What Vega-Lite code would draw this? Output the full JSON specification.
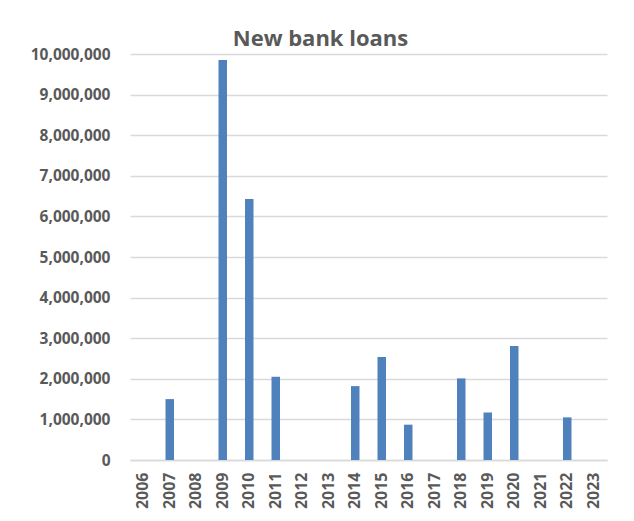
{
  "$schema": "https://vega.github.io/schema/vega-lite/v6.json",
  "width": 477,
  "height": 406,
  "autosize": {"type": "none"},
  "padding": {"left": 130, "top": 54, "right": 27, "bottom": 61},
  "background": "#ffffff",
  "title": {
    "text": "New bank loans",
    "font": "Open Sans",
    "fontSize": 22,
    "fontWeight": "bold",
    "color": "#595959",
    "anchor": "middle",
    "baseline": "alphabetic",
    "offset": 6,
    "dx": -48,
    "dy": 27
  },
  "data": {
    "values": [
      {"year": "2006", "loans": 0},
      {"year": "2007", "loans": 1500000},
      {"year": "2008", "loans": 0},
      {"year": "2009", "loans": 9850000},
      {"year": "2010", "loans": 6430000},
      {"year": "2011", "loans": 2050000},
      {"year": "2012", "loans": 0},
      {"year": "2013", "loans": 0},
      {"year": "2014", "loans": 1820000},
      {"year": "2015", "loans": 2540000},
      {"year": "2016", "loans": 870000},
      {"year": "2017", "loans": 0},
      {"year": "2018", "loans": 2010000},
      {"year": "2019", "loans": 1170000},
      {"year": "2020", "loans": 2810000},
      {"year": "2021", "loans": 0},
      {"year": "2022", "loans": 1050000},
      {"year": "2023", "loans": 0}
    ]
  },
  "mark": {"type": "bar", "color": "#4f81bd"},
  "encoding": {
    "x": {
      "field": "year",
      "type": "ordinal",
      "scale": {"paddingInner": 0.68, "paddingOuter": 0.34},
      "axis": {
        "title": null,
        "labelAngle": -90,
        "labelAlign": "right",
        "labelBaseline": "middle",
        "labelPadding": 12,
        "labelFont": "Open Sans",
        "labelFontSize": 16,
        "labelFontWeight": "bold",
        "labelColor": "#595959",
        "ticks": false,
        "domainColor": "#d9d9d9",
        "domainWidth": 1.5,
        "grid": false
      }
    },
    "y": {
      "field": "loans",
      "type": "quantitative",
      "scale": {"domain": [0, 10000000], "nice": false},
      "axis": {
        "title": null,
        "values": [0, 1000000, 2000000, 3000000, 4000000, 5000000, 6000000, 7000000, 8000000, 9000000, 10000000],
        "format": ",d",
        "labelPadding": 20,
        "labelFont": "Open Sans",
        "labelFontSize": 15.5,
        "labelFontWeight": "bold",
        "labelColor": "#595959",
        "ticks": false,
        "domain": false,
        "grid": true,
        "gridColor": "#d9d9d9",
        "gridWidth": 1.5
      }
    }
  },
  "config": {"view": {"stroke": null}}
}
